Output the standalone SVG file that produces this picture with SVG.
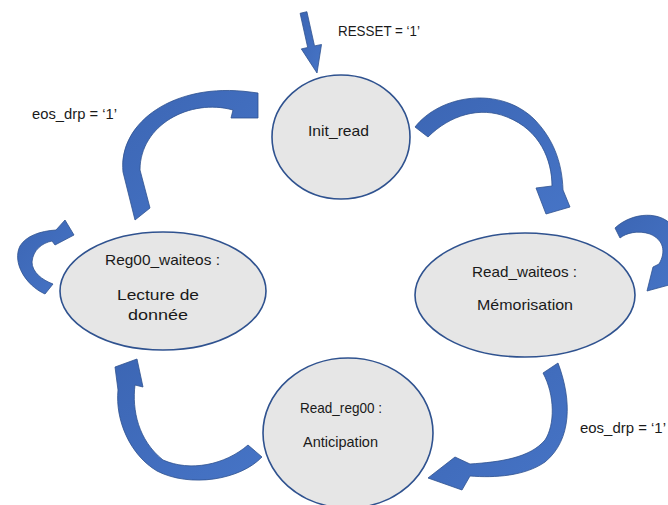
<svg xmlns="http://www.w3.org/2000/svg" width="668" height="505" viewBox="0 0 668 505">
<defs>
<linearGradient id="ag" x1="0" y1="0" x2="1" y2="1">
<stop offset="0" stop-color="#3c66b4"/>
<stop offset="1" stop-color="#4674c6"/>
</linearGradient>
</defs>
<style>
.node{fill:#e6e6e6;stroke:#2f528f;stroke-width:1.6}
.arr{fill:url(#ag);stroke:#2f528f;stroke-width:0.8;stroke-linejoin:round}
.t{font-family:"Liberation Sans",Arial,sans-serif;font-size:15px;fill:#1a1a1a}
</style>
<rect width="668" height="505" fill="#ffffff"/>
<g id="connectors">
<polygon class="arr" points="300.1,13.3 306.9,11.7 314.5,45.9 321.5,44.5 317,73 301.3,48.9 307.7,47.5"/>
<path class="arr" d="M135,220 L123,172 C118,122 175,82 250,92 L258,93 L258,118 L231,118 L233,110 C190,98 140,125 140,170 L150,208 Z"/>
<path class="arr" d="M415,127 C440,95 500,85 535,120 C552,138 562,160 563,190 L570,207 L546,214 L536,188 L552,186 C552,160 540,130 507,117 C480,106 450,115 428,137 Z"/>
<path class="arr" d="M615,228 C632,212 662,210 674,228 C682,242 678,262 670,270 L669,285 L647,291 L653,267 L659,264 C666,252 664,240 650,234 C638,230 626,233 620,238 Z"/>
<path class="arr" d="M45,294 C25,285 12,262 20,246 C26,236 40,231 56,230 L65,220 L74,235 L55,245 L52,241 C42,243 33,250 32,262 C32,272 42,280 53,284 Z"/>
<path class="arr" d="M543,373 L558,363 C572,400 572,440 545,462 C525,476 495,478 470,476 L462,490 L428,478 L455,457 L470,464 C500,462 530,458 545,440 C555,425 555,395 543,373 Z"/>
<path class="arr" d="M248,445 L262,457 C240,480 190,488 157,471 C130,455 115,420 118,390 L115,367 L137,359 L143,387 L135,385 C132,410 138,440 163,460 C190,472 225,465 248,445 Z"/>
</g>
<g id="node-init">
<ellipse class="node" cx="341" cy="137" rx="69" ry="62"/>
<text class="t" x="308" y="136" textLength="61" lengthAdjust="spacingAndGlyphs">Init_read</text>
</g>
<g id="node-reg00waiteos">
<ellipse class="node" cx="163" cy="291" rx="103" ry="59"/>
<text class="t" x="105" y="265" textLength="115" lengthAdjust="spacingAndGlyphs">Reg00_waiteos :</text>
<text class="t" x="117" y="300" textLength="82" lengthAdjust="spacingAndGlyphs">Lecture de</text>
<text class="t" x="128" y="320" textLength="60" lengthAdjust="spacingAndGlyphs">donnée</text>
</g>
<g id="node-readwaiteos">
<ellipse class="node" cx="525" cy="295" rx="110" ry="62"/>
<text class="t" x="472" y="277" textLength="105" lengthAdjust="spacingAndGlyphs">Read_waiteos :</text>
<text class="t" x="477" y="310" textLength="96" lengthAdjust="spacingAndGlyphs">Mémorisation</text>
</g>
<g id="node-readreg00">
<ellipse class="node" cx="348" cy="433" rx="85" ry="75"/>
<text class="t" x="300" y="413" textLength="82" lengthAdjust="spacingAndGlyphs">Read_reg00 :</text>
<text class="t" x="303" y="447" textLength="75" lengthAdjust="spacingAndGlyphs">Anticipation</text>
</g>
<g id="labels">
<text class="t" x="338" y="36" textLength="82" lengthAdjust="spacingAndGlyphs">RESSET = ‘1’</text>
<text class="t" x="32" y="119" textLength="85" lengthAdjust="spacingAndGlyphs">eos_drp = ‘1’</text>
<text class="t" x="580" y="433" textLength="86" lengthAdjust="spacingAndGlyphs">eos_drp = ‘1’</text>
</g>
</svg>
